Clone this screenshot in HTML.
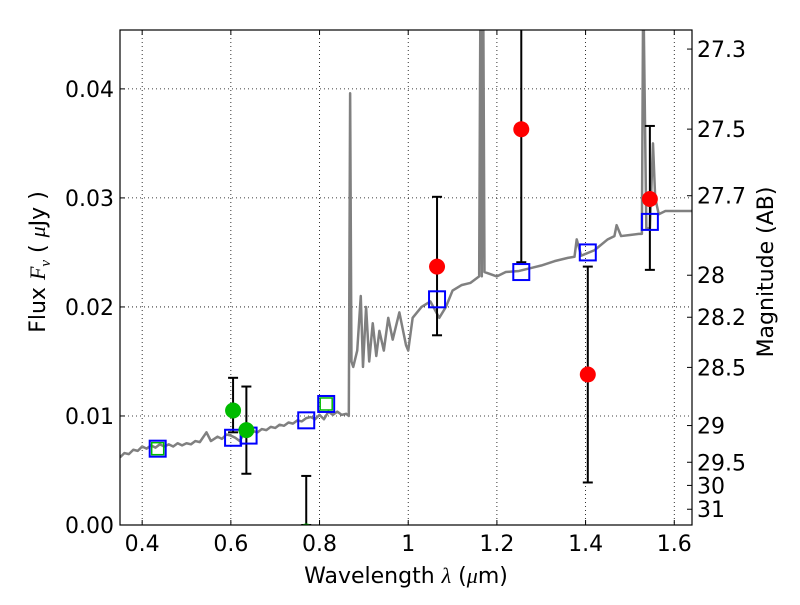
<!DOCTYPE html>
<html><head><meta charset="utf-8"><style>
body{margin:0;background:#fff;}
text{font-family:"DejaVu Sans","Liberation Sans",sans-serif;}
</style></head><body>
<svg id="chart" width="800" height="600" xmlns="http://www.w3.org/2000/svg"></svg>
<script>
const specWave=[0.35,0.36,0.37,0.38,0.39,0.40,0.41,0.42,0.43,0.44,0.45,0.46,0.47,0.48,0.49,0.50,0.51,0.52,0.53,0.545,0.555,0.57,0.58,0.59,0.6,0.61,0.62,0.63,0.64,0.65,0.66,0.67,0.68,0.69,0.7,0.71,0.72,0.73,0.74,0.75,0.76,0.77,0.78,0.79,0.8,0.81,0.82,0.83,0.84,0.85,0.86,0.866,0.869,0.872,0.876,0.885,0.893,0.898,0.905,0.912,0.92,0.928,0.935,0.945,0.955,0.965,0.98,0.995,1.0,1.01,1.03,1.05,1.07,1.085,1.1,1.12,1.14,1.16,1.163,1.166,1.169,1.172,1.2,1.22,1.25,1.28,1.3,1.33,1.36,1.375,1.38,1.39,1.42,1.45,1.465,1.47,1.48,1.5,1.52,1.527,1.53,1.537,1.545,1.552,1.557,1.565,1.58,1.6,1.64];
const specFlux=[0.0062,0.0066,0.0065,0.0069,0.0068,0.0072,0.0070,0.0073,0.0071,0.0074,0.0072,0.0074,0.0072,0.0075,0.0073,0.0075,0.0074,0.0077,0.0076,0.0085,0.0077,0.0081,0.0079,0.0083,0.0082,0.0080,0.0077,0.0084,0.0083,0.0086,0.0085,0.0088,0.0087,0.0090,0.0089,0.0092,0.0091,0.0094,0.0093,0.0096,0.0095,0.0098,0.0099,0.0097,0.0101,0.0097,0.0104,0.0101,0.0104,0.0101,0.0102,0.0100,0.0396,0.0150,0.0145,0.0160,0.0210,0.0145,0.0200,0.0150,0.0185,0.0155,0.0178,0.0160,0.0190,0.0170,0.0195,0.0165,0.0160,0.0190,0.0200,0.0205,0.0190,0.0200,0.0215,0.0220,0.0222,0.0228,0.05,0.0228,0.05,0.0232,0.0228,0.0232,0.0233,0.0236,0.0238,0.0242,0.0245,0.0246,0.0262,0.0247,0.0252,0.0262,0.0265,0.0275,0.0265,0.0266,0.0267,0.0267,0.05,0.0272,0.0272,0.0350,0.0300,0.0285,0.0288,0.0288,0.0288];
const greenWave=[0.605,0.635,0.77];
const greenFlux=[0.0105,0.0087,-0.0006];
const greenLo=[0.0085,0.0047,0.0];
const greenHi=[0.0135,0.0127,0.0045];
const redWave=[1.065,1.255,1.405,1.545];
const redFlux=[0.0237,0.0363,0.0138,0.0299];
const redLo=[0.0174,0.0241,0.0039,0.0234];
const redHi=[0.0301,0.06,0.0237,0.0366];
const modelWave=[0.435,0.605,0.64,0.77,0.815,1.065,1.255,1.405,1.545];
const modelFlux=[0.0070,0.0080,0.0082,0.0096,0.0111,0.0207,0.0232,0.0250,0.0278];
const greenSqWave=[0.435,0.815];
const greenSqFlux=[0.0070,0.0111];
const xTicks=[0.4,0.6,0.8,1.0,1.2,1.4,1.6];
const xTickLabels=["0.4","0.6","0.8","1","1.2","1.4","1.6"];
const yTicks=[0,0.01,0.02,0.03,0.04];
const yTickLabels=["0.00","0.01","0.02","0.03","0.04"];
const magTicks=[27.3,27.5,27.7,28,28.2,28.5,29,29.5,30,31];
const magLabels=["27.3","27.5","27.7","28","28.2","28.5","29","29.5","30","31"];

const L=120,R=692,T=30,B=525,X0=0.35,X1=1.64,Y0=0,Y1=0.0454;
const sx=v=>L+(v-X0)/(X1-X0)*(R-L);
const sy=v=>B-(v-Y0)/(Y1-Y0)*(B-T);
const NS="http://www.w3.org/2000/svg";
const svg=document.getElementById('chart');
function mk(tag,attrs,parent){const e=document.createElementNS(NS,tag);for(const k in attrs)e.setAttribute(k,attrs[k]);(parent||svg).appendChild(e);return e;}
const defs=mk('defs',{});const cp=mk('clipPath',{id:'clip'},defs);mk('rect',{x:L,y:T,width:R-L,height:B-T},cp);

xTicks.forEach((t,i)=>{
 const g=mk('line',{x1:sx(t),x2:sx(t),y1:T,y2:B,stroke:'#000','stroke-width':0.8,'stroke-dasharray':'1,3'});
 
 
 mk('line',{x1:sx(t),x2:sx(t),y1:B,y2:B-5,stroke:'#000'});
 mk('line',{x1:sx(t),x2:sx(t),y1:T,y2:T+5,stroke:'#000'});
 const tx=mk('text',{x:sx(t),y:B+26,'text-anchor':'middle','font-size':22});tx.textContent=xTickLabels[i];
 
 
});
yTicks.forEach((t,i)=>{
 const g=mk('line',{x1:L,x2:R,y1:sy(t),y2:sy(t),stroke:'#000','stroke-width':0.8,'stroke-dasharray':'1,3'});
 
 
 mk('line',{x1:L,x2:L+5,y1:sy(t),y2:sy(t),stroke:'#000'});
 const tx=mk('text',{x:L-6,y:sy(t)+8,'text-anchor':'end','font-size':22});tx.textContent=yTickLabels[i];
 
 
});
magTicks.forEach((m,i)=>{
 const f=Math.pow(10,(23.9-m)/2.5);const y=sy(f);
 mk('line',{x1:R,x2:R-5,y1:y,y2:y,stroke:'#000'});
 const tx=mk('text',{x:R+5,y:y+8,'font-size':22});tx.textContent=magLabels[i];
 
 
});

const clipG=mk('g',{'clip-path':'url(#clip)'});
const sp=mk('polyline',{points:specWave.map((w,i)=>sx(w)+','+sy(specFlux[i])).join(' '),fill:'none',stroke:'#808080','stroke-width':2.5,'stroke-linejoin':'round'},clipG);



function errbar(w,lo,hi){
 const x=sx(w);
 mk('line',{x1:x,x2:x,y1:sy(lo),y2:sy(hi),stroke:'#000','stroke-width':2},clipG);
 if(hi<Y1)mk('line',{x1:x-5,x2:x+5,y1:sy(hi),y2:sy(hi),stroke:'#000','stroke-width':2},clipG);
 mk('line',{x1:x-5,x2:x+5,y1:sy(lo),y2:sy(lo),stroke:'#000','stroke-width':2},clipG);
}
greenWave.forEach((w,i)=>errbar(w,greenLo[i],greenHi[i]));
redWave.forEach((w,i)=>errbar(w,redLo[i],redHi[i]));
greenSqWave.forEach((w,i)=>{
 const r=mk('rect',{x:sx(w)-6,y:sy(greenSqFlux[i])-6,width:12,height:12,fill:'none',stroke:'#00bb00','stroke-width':1.5},clipG);
 
 
});
modelWave.forEach((w,i)=>{
 const r=mk('rect',{x:sx(w)-8,y:sy(modelFlux[i])-8,width:16,height:16,fill:'none',stroke:'#0000ff','stroke-width':2},clipG);
 
 
});
greenWave.forEach((w,i)=>{
 const c=mk('circle',{cx:sx(w),cy:sy(greenFlux[i]),r:8,fill:'#00bb00'},clipG);
 
 
});
redWave.forEach((w,i)=>{
 const c=mk('circle',{cx:sx(w),cy:sy(redFlux[i]),r:8,fill:'#ff0000'},clipG);
 
 
});

const fr=mk('rect',{x:L,y:T,width:R-L,height:B-T,fill:'none',stroke:'#000','stroke-width':1.2});



const xl=mk('text',{x:406,y:583,'text-anchor':'middle','font-size':22});
xl.innerHTML='Wavelength  <tspan font-style="italic" font-family="Liberation Serif">λ</tspan> (<tspan font-style="italic" font-family="Liberation Serif">μ</tspan>m)';


const yl=mk('text',{x:0,y:0,'text-anchor':'middle','font-size':22,transform:'translate(45,262) rotate(-90)'});
yl.innerHTML='Flux  <tspan font-style="italic" font-family="Liberation Serif">F<tspan font-size="15" dy="5">ν</tspan></tspan><tspan dy="-5">  (  </tspan><tspan font-style="italic" font-family="Liberation Serif">μ</tspan>Jy )';


const yr=mk('text',{x:0,y:0,'text-anchor':'middle','font-size':22,transform:'translate(773,272) rotate(-90)'});
yr.textContent='Magnitude (AB)';


</script>
</body></html>
